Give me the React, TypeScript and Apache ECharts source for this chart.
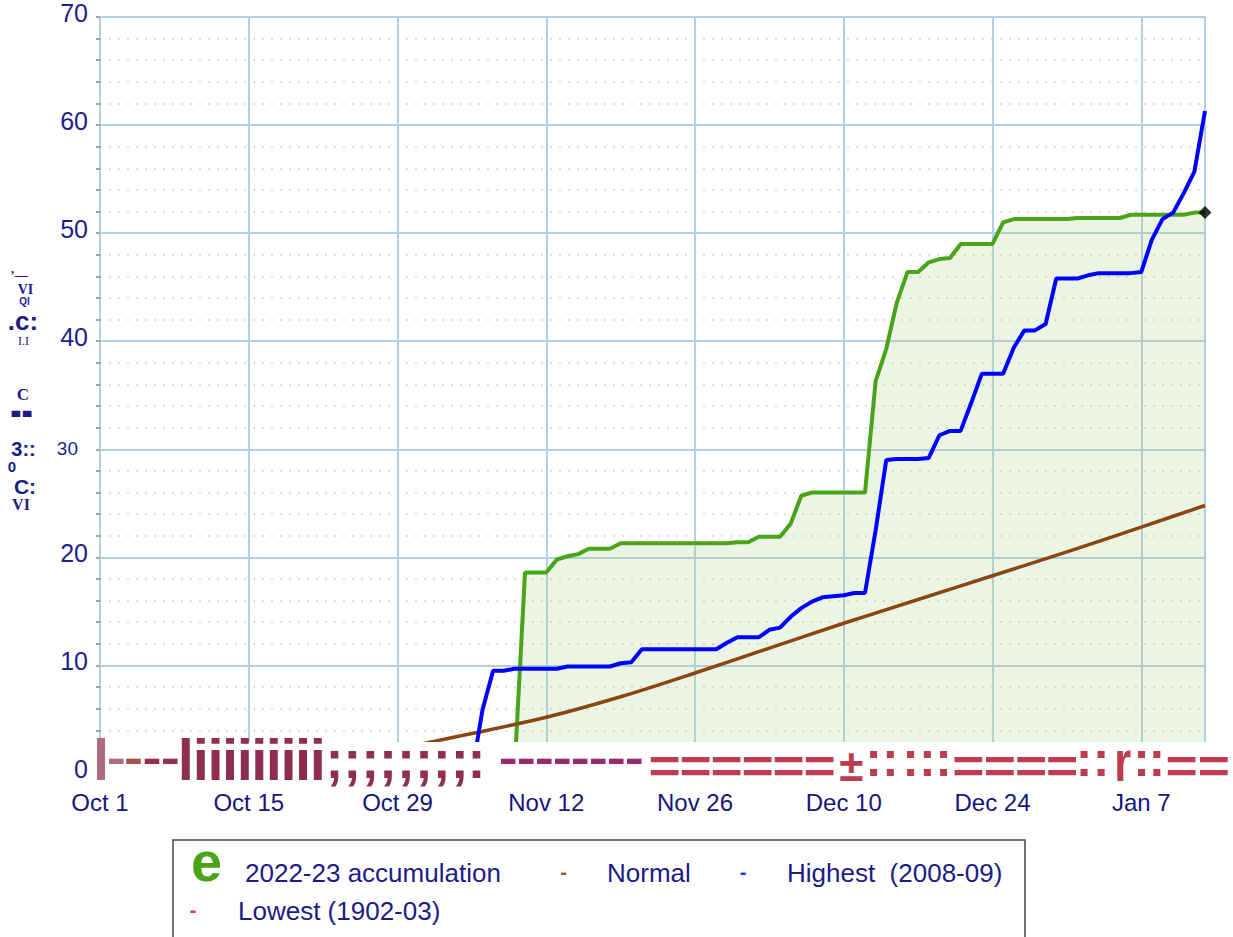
import React, { useEffect, useRef } from 'react';
import * as echarts from 'echarts';

// ---------------- data ----------------
const xTickLabels = ['Oct 1', 'Oct 15', 'Oct 29', 'Nov 12', 'Nov 26', 'Dec 10', 'Dec 24', 'Jan 7'];
const lastDay = 104; // Jan 13 (days since Oct 1)

// 2022-23 accumulation, daily values starting at day 39 (Nov 9)
const accumStartDay = 39;
const accum2223 = [
  0, 18.6, 18.6, 18.6, 19.8, 20.1, 20.3, 20.8, 20.8, 20.8,
  21.3, 21.3, 21.3, 21.3, 21.3, 21.3, 21.3, 21.3, 21.3, 21.3,
  21.3, 21.4, 21.4, 21.9, 21.9, 21.9, 23.1, 25.7, 26.0, 26.0,
  26.0, 26.0, 26.0, 26.0, 36.3, 39.3, 43.6, 46.4, 46.4, 47.3,
  47.6, 47.7, 49.0, 49.0, 49.0, 49.0, 51.0, 51.3, 51.3, 51.3,
  51.3, 51.3, 51.3, 51.4, 51.4, 51.4, 51.4, 51.4, 51.7, 51.7,
  51.7, 51.7, 51.7, 51.7, 51.9, 51.9,
];

// Highest (2008-09), daily values starting at day 35 (Nov 5)
const highestStartDay = 35;
const highest0809 = [
  0, 5.9, 9.5, 9.5, 9.7, 9.7, 9.7, 9.7, 9.7, 9.9,
  9.9, 9.9, 9.9, 9.9, 10.2, 10.3, 11.5, 11.5, 11.5, 11.5,
  11.5, 11.5, 11.5, 11.5, 12.1, 12.6, 12.6, 12.6, 13.3, 13.5,
  14.5, 15.3, 15.9, 16.3, 16.4, 16.5, 16.7, 16.7, 22.5, 29.0,
  29.1, 29.1, 29.1, 29.2, 31.3, 31.7, 31.7, 34.3, 37.0, 37.0,
  37.0, 39.4, 41.0, 41.0, 41.6, 45.8, 45.8, 45.8, 46.1, 46.3,
  46.3, 46.3, 46.3, 46.4, 49.4, 51.3, 51.9, 53.7, 55.7, 61.3,
];

// Normal accumulation (weekly readings)
const normalDays = [0, 7, 14, 21, 28, 35, 42, 49, 56, 63, 70, 77, 84, 91, 98, 104];
const normalValues = [0, 0.1, 0.5, 1.2, 2.3, 3.7, 5.2, 7.1, 9.3, 11.6, 13.9, 16.1, 18.3, 20.5, 22.8, 24.8];

// Lowest (1902-03): no visible trace on the chart
const lowest0203: number[] = [];

// ---------------- styling ----------------
const NAVY = '#1c1c86';
const SANS = '"Liberation Sans", Arial, sans-serif';
const SERIF = '"Liberation Serif", "Times New Roman", serif';
const GRID = '#b3cfe5';
const GREEN = '#4aa41a';
const BLUE = '#0000ff';
const BROWN = '#8b4513';
const RED = '#e53030';

function t(text: string, x: number, y: number, o: any = {}) {
  return {
    type: 'text',
    x,
    y,
    z: 100,
    scaleX: o.scaleX ?? 1,
    scaleY: o.scaleY ?? 1,
    style: {
      text,
      fill: o.fill ?? NAVY,
      fontSize: o.fs ?? 16,
      fontFamily: o.ff ?? SANS,
      fontWeight: o.fw ?? 'normal',
      align: o.align ?? 'center',
      verticalAlign: 'middle',
    },
  };
}

function run(ch: string, xs: number[], y: number, o: any) {
  return xs.map((x) => t(ch, x, y, o));
}
function steps(x0: number, step: number, n: number) {
  const a: number[] = [];
  for (let i = 0; i < n; i++) a.push(x0 + step * i);
  return a;
}

export default function App() {
  const ref = useRef<HTMLDivElement>(null);
  useEffect(() => {
    if (!ref.current) return;
    const chart = echarts.init(ref.current, null, { renderer: 'svg' });

    const accumData = accum2223.map((v, i) => [accumStartDay + i, v]);
    const highData = highest0809.map((v, i) => [highestStartDay + i, v]);
    const normalData = normalDays.map((d, i) => [d, normalValues[i]]);
    const lastAccum = accumData[accumData.length - 1];

    const bold = { fw: 'bold', ff: SANS };
    const artifact: any[] = [
      { type: 'rect', z: 99, shape: { x: 92, y: 742, width: 1141, height: 37 }, style: { fill: '#ffffff' } },
      t('l', 101, 759, { ...bold, fs: 58, fill: '#ad6a80' }),
      t('-', 116.3, 757.8, { ...bold, fs: 44, fill: '#ad6a80', scaleX: 1.3 }),
      t('-', 133.6, 757.8, { ...bold, fs: 44, fill: '#a3524d', scaleX: 1.3 }),
      t('-', 152, 757.8, { ...bold, fs: 44, fill: '#962f52', scaleX: 1.3 }),
      t('-', 170.3, 757.8, { ...bold, fs: 44, fill: '#922f55', scaleX: 1.3 }),
      t('l', 185.8, 759, { ...bold, fs: 58, fill: '#8f2f52' }),
      ...run('i', steps(200.9, 14.6, 9), 759, { ...bold, fs: 58, fill: '#8c2d51' }),
      ...run(';', steps(334.4, 17.9, 8), 759, { ...bold, fs: 54, fill: '#8e2f52' }),
      t(':', 476.5, 759, { ...bold, fs: 54, fill: '#8e2f52' }),
      ...run('-', steps(508.3, 18, 8), 757.5, { ...bold, fs: 44, fill: '#982a6f', scaleX: 1.3 }),
      ...run('=', steps(664.7, 31, 6), 766, { ...bold, fs: 48, fill: '#be3c4f', scaleX: 1.15 }),
      t('±', 851.3, 765, { ...bold, fs: 44, fill: '#be3c4f' }),
      ...run(':', [873.7, 890.4, 910.6, 927.3, 943.6], 758.7, { ...bold, fs: 50, fill: '#be3c4f' }),
      ...run('=', [968.3, 999.9, 1031, 1062.2], 766, { ...bold, fs: 48, fill: '#be3c4f', scaleX: 1.15 }),
      ...run(':', [1084.2, 1101], 758.7, { ...bold, fs: 50, fill: '#be3c4f' }),
      t('r', 1122.6, 761, { ...bold, fs: 58, fill: '#be3c4f', scaleX: 0.75 }),
      ...run(':', [1141.6, 1156.8], 758.7, { ...bold, fs: 50, fill: '#be3c4f' }),
      ...run('=', [1181.5, 1213.8], 766, { ...bold, fs: 48, fill: '#be3c4f', scaleX: 1.15 }),
    ];

    const yTitle: any[] = [
      t('’—', 19, 274.5, { ff: SERIF, fw: 'bold', fs: 13 }),
      t('VI', 25.5, 289, { ff: SERIF, fw: 'bold', fs: 14 }),
      t('Ql', 24.5, 301, { ff: SANS, fw: 'bold', fs: 10 }),
      t('.c:', 23, 321, { ff: SANS, fw: 'bold', fs: 26 }),
      t('I.I', 23.5, 341, { ff: SERIF, fs: 12 }),
      t('C', 23, 394, { ff: SERIF, fw: 'bold', fs: 17 }),
      t('--', 21.5, 409.6, { ff: SANS, fw: 'bold', fs: 34, scaleY: 1.5 }),
      t('3::', 23.5, 449.2, { ff: SANS, fw: 'bold', fs: 20 }),
      t('0', 12, 466.5, { ff: SANS, fw: 'bold', fs: 15 }),
      t('C:', 25, 486, { ff: SANS, fw: 'bold', fs: 21 }),
      t('VI', 21, 504, { ff: SERIF, fw: 'bold', fs: 16 }),
    ];

    const legend: any[] = [
      { type: 'rect', z: 99, shape: { x: 173, y: 840, width: 852, height: 120 }, style: { fill: '#ffffff', stroke: '#444444', lineWidth: 1.5 } },
      t('e', 206.5, 861, { ...bold, fs: 56, fill: GREEN }),
      t('2022-23 accumulation', 245, 873, { fs: 26, align: 'left' }),
      t('-', 563.5, 872, { ...bold, fs: 20, fill: '#a0522d' }),
      t('Normal', 607, 873, { fs: 26, align: 'left' }),
      t('-', 743, 872, { ...bold, fs: 20, fill: '#0040ff' }),
      t('Highest  (2008-09)', 787, 873, { fs: 26, align: 'left' }),
      t('-', 193, 910, { ...bold, fs: 20, fill: RED }),
      t('Lowest (1902-03)', 238, 911, { fs: 26, align: 'left' }),
    ];

    chart.setOption({
      animation: false,
      backgroundColor: '#ffffff',
      grid: {
        left: 100,
        right: 28,
        top: 16,
        bottom: 163.5,
        show: true,
        borderColor: GRID,
        borderWidth: 2,
        backgroundColor: 'transparent',
      },
      xAxis: {
        type: 'value',
        min: 0,
        max: lastDay,
        interval: 14,
        axisLine: { show: false },
        axisTick: { show: false },
        splitLine: { show: true, lineStyle: { color: GRID, width: 2 } },
        axisLabel: {
          margin: 17,
          fontSize: 24,
          fontFamily: SANS,
          color: '#15157a',
          showMaxLabel: false,
          formatter: (v: number) => (v % 14 === 0 ? xTickLabels[v / 14] ?? '' : ''),
        },
      },
      yAxis: {
        type: 'value',
        min: 0,
        max: 70,
        interval: 10,
        axisLine: { show: true, lineStyle: { color: GRID, width: 2 } },
        axisTick: { show: true, length: 4, lineStyle: { color: '#888888', width: 1.5 } },
        minorTick: { show: true, splitNumber: 5, length: 4, lineStyle: { color: '#888888', width: 1.5 } },
        splitLine: { show: true, lineStyle: { color: GRID, width: 2 } },
        minorSplitLine: { show: true, lineStyle: { color: '#e0e0e0', width: 2, type: [2, 7] } },
        axisLabel: {
          margin: 12,
          fontSize: 25,
          fontFamily: SANS,
          color: '#1e1e8c',
          padding: [0, 0, 9, 0],
          formatter: (v: number) => (v === 30 ? '{s|30}' : String(v)),
          rich: { s: { fontSize: 19, fontFamily: SANS, color: '#1e1e8c', padding: [8, 10, 0, 0] } },
        },
      },
      series: [
        {
          name: '2022-23 accumulation',
          type: 'line',
          data: accumData,
          symbol: 'none',
          z: 2,
          lineStyle: { color: GREEN, width: 4 },
          itemStyle: { color: GREEN },
          areaStyle: { color: 'rgba(170, 210, 130, 0.22)', opacity: 1 },
        },
        {
          name: 'Normal',
          type: 'line',
          data: normalData,
          symbol: 'none',
          smooth: 0.3,
          z: 3,
          lineStyle: { color: BROWN, width: 3.5 },
          itemStyle: { color: BROWN },
        },
        {
          name: 'Highest (2008-09)',
          type: 'line',
          data: highData,
          symbol: 'none',
          z: 4,
          lineStyle: { color: BLUE, width: 4 },
          itemStyle: { color: BLUE },
        },
        {
          name: 'Lowest (1902-03)',
          type: 'line',
          data: lowest0203,
          symbol: 'none',
          lineStyle: { color: RED, width: 3 },
        },
        {
          name: 'latest',
          type: 'scatter',
          data: [lastAccum],
          symbol: 'diamond',
          symbolSize: 13,
          z: 5,
          itemStyle: { color: '#000000' },
        },
      ],
      graphic: [...artifact, ...yTitle, ...legend],
    });
    return () => chart.dispose();
  }, []);

  return (
    <div
      ref={ref}
      style={{ position: 'fixed', left: 0, top: 0, width: 1233, height: 937, background: '#fff' }}
    />
  );
}
